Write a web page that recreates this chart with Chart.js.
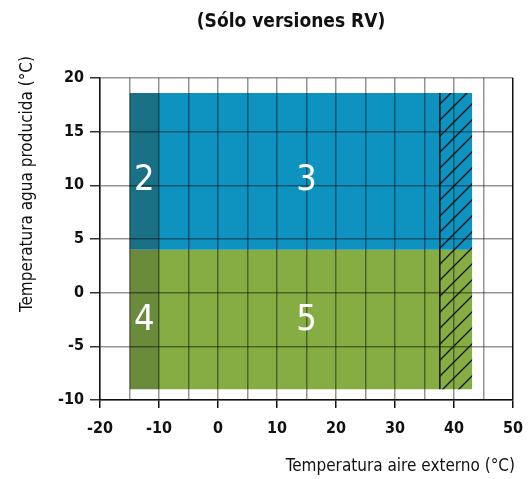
<!DOCTYPE html>
<html>
<head>
<meta charset="utf-8">
<script src="https://cdn.jsdelivr.net/npm/chart.js@4/dist/chart.umd.min.js"></script>
<style>
  html, body { margin: 0; padding: 0; background: #fff; }
  #wrap { width: 528px; height: 479px; position: relative; }
</style>
</head>
<body>
<div id="wrap"><canvas id="chart"></canvas></div>
<script>
// Datos
const xTicks = { min: -20, max: 50, step: 5 };
const yTicks = { min: -10, max: 20, step: 5 };
const colEdges = [-15, -10, 43.1];      // bordes de columnas de zonas
const rowEdges = [-9, 4, 18.6];         // bordes de filas de zonas
const hatchEdges = [37.6, 43.1];        // zona rayada
const zoneNames = ['2', '3', '4', '5'];
const zoneLabelX = [-12.5, 15, -12.5, 15];
const zoneLabelY = [10.5, 10.5, -2.5, -2.5];

const FONT = "'Liberation Sans Narrow', 'Arial Narrow', 'DejaVu Sans Condensed', sans-serif";

// Patrón de rayado diagonal
function hatchPattern() {
    const s = 16;
    const c = document.createElement('canvas');
    c.width = s; c.height = s;
    const g = c.getContext('2d');
    g.strokeStyle = '#111';
    g.lineWidth = 1.3;
    g.beginPath();
    g.moveTo(-2, s + 2); g.lineTo(s + 2, -2);
    g.moveTo(-2, 2); g.lineTo(2, -2);
    g.moveTo(s - 2, s + 2); g.lineTo(s + 2, s - 2);
    g.stroke();
    return g.createPattern(c, 'repeat');
}

function band(x0, x1, yTop, yBottom, color) {
    return {
        data: [{ x: x0, y: yTop }, { x: x1, y: yTop }],
        fill: { value: yBottom },
        backgroundColor: color,
        borderColor: 'transparent',
        borderWidth: 0,
        pointRadius: 0
    };
}

// Textos: título, títulos de ejes y números de zona
const textPlugin = {
    id: 'texts',
    afterDraw(chart) {
        const ctx = chart.ctx;
        const xs = chart.scales.x, ys = chart.scales.y;
        ctx.save();
        ctx.fillStyle = '#111';
        ctx.textBaseline = 'middle';
        ctx.textAlign = 'center';
        ctx.font = 'bold 19px ' + FONT;
        ctx.fillText('(Sólo versiones RV)', 291, 22);

        ctx.font = '17px ' + FONT;
        ctx.textAlign = 'right';
        ctx.fillText('Temperatura aire externo (°C)', 515, 467);

        ctx.save();
        ctx.translate(28, 184);
        ctx.rotate(-Math.PI / 2);
        ctx.textAlign = 'center';
        ctx.fillText('Temperatura agua producida (°C)', 0, 0);
        ctx.restore();

        ctx.fillStyle = '#fff';
        ctx.textAlign = 'center';
        ctx.font = '36px ' + FONT;
        zoneNames.forEach((n, i) => {
            ctx.fillText(n, xs.getPixelForValue(zoneLabelX[i]), ys.getPixelForValue(zoneLabelY[i]) + 1);
        });
        ctx.restore();
    }
};

document.addEventListener('DOMContentLoaded', function() {
    const ctx = document.getElementById('chart').getContext('2d');
    new Chart(ctx, {
        type: 'line',
        data: {
            datasets: [
                {
                    // borde izquierdo de la zona rayada
                    data: [{ x: hatchEdges[0], y: rowEdges[0] }, { x: hatchEdges[0], y: rowEdges[2] }],
                    fill: false,
                    borderColor: '#111',
                    borderWidth: 1.5,
                    pointRadius: 0
                },
                band(hatchEdges[0], hatchEdges[1], rowEdges[2], rowEdges[0], hatchPattern()),
                band(colEdges[0], colEdges[1], rowEdges[2], rowEdges[1], '#1a7085'), // 2
                band(colEdges[1], colEdges[2], rowEdges[2], rowEdges[1], '#0e93c1'), // 3
                band(colEdges[0], colEdges[1], rowEdges[1], rowEdges[0], '#6a8a3c'), // 4
                band(colEdges[1], colEdges[2], rowEdges[1], rowEdges[0], '#86ad43')  // 5
            ]
        },
        options: {
            responsive: true,
            maintainAspectRatio: false,
            animation: false,
            layout: { padding: { top: 78, right: 15, left: 0, bottom: 0 } },
            plugins: {
                legend: { display: false },
                tooltip: { enabled: false }
            },
            scales: {
                x: {
                    type: 'linear',
                    min: xTicks.min,
                    max: xTicks.max,
                    afterFit: s => { s.height = 79; s.paddingLeft = 0; s.paddingRight = 0; },
                    ticks: {
                        stepSize: xTicks.step,
                        autoSkip: false,
                        maxRotation: 0,
                        padding: 11,
                        color: '#111',
                        font: { family: FONT, size: 16, weight: 'bold' },
                        callback: v => (v % 10 === 0 ? String(v) : '')
                    },
                    grid: {
                        z: 1,
                        lineWidth: 1.5,
                        tickLength: 8,
                        color: c => (c.tick && c.tick.value === xTicks.max ? '#111' : 'rgba(0,0,0,0.42)'),
                        tickColor: c => (c.tick && c.tick.value % 10 === 0 ? '#111' : 'transparent')
                    },
                    border: { color: '#111', width: 1.5, z: 2 }
                },
                y: {
                    min: yTicks.min,
                    max: yTicks.max,
                    afterFit: s => { s.width = 100; },
                    ticks: {
                        stepSize: yTicks.step,
                        padding: 6,
                        color: '#111',
                        font: { family: FONT, size: 16, weight: 'bold' }
                    },
                    grid: {
                        z: 1,
                        lineWidth: 1.5,
                        tickLength: 10,
                        color: 'rgba(0,0,0,0.42)',
                        tickColor: '#333'
                    },
                    border: { color: '#111', width: 1.5, z: 2 }
                }
            }
        },
        plugins: [textPlugin]
    });
});
</script>
</body>
</html>
